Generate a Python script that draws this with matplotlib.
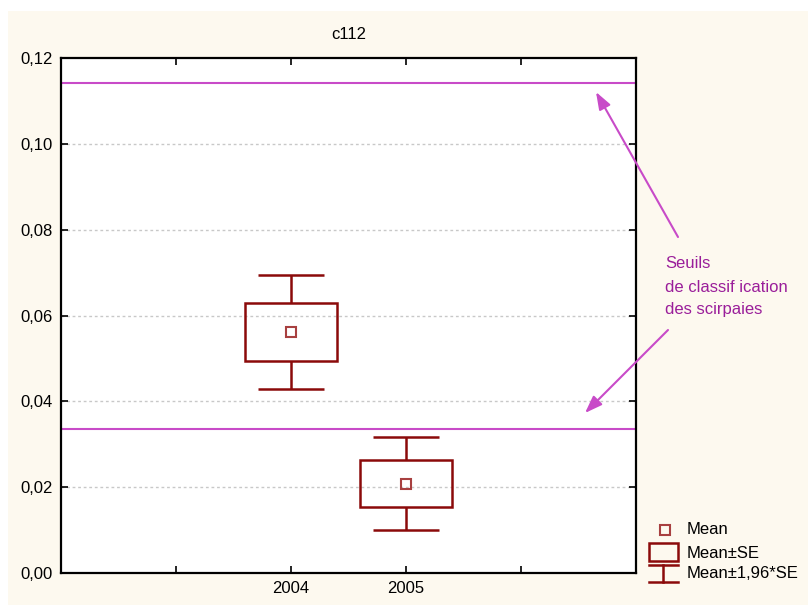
import matplotlib
matplotlib.use("Agg")
import matplotlib.pyplot as plt
from matplotlib.patches import Rectangle
from matplotlib.lines import Line2D

plt.rcParams['font.family'] = ['Liberation Sans', 'DejaVu Sans']

# Data
years = ["2004", "2005"]
means = [0.0562, 0.0208]
se = [0.0068, 0.0055]
thresholds = [0.1142, 0.0336]
yticks = [0.00, 0.02, 0.04, 0.06, 0.08, 0.10, 0.12]
ytick_labels = ["0,00", "0,02", "0,04", "0,06", "0,08", "0,10", "0,12"]
x_positions = [2, 3]
xtick_positions = [1, 2, 3, 4]
xtick_labels = ["", "2004", "2005", ""]

BOX = "#8B0A0A"
MAG = "#C84BC8"
TXT = "#9A1E9A"
CREAM = "#FDF9EF"
FS = 12

W, H = 808, 608
fig = plt.figure(figsize=(W / 100, H / 100), dpi=100, facecolor="white")

# cream panel behind the plot
fig.patches.append(Rectangle((8 / W, 3 / H), 1 - 8 / W, (605 - 11) / H,
                             transform=fig.transFigure, facecolor=CREAM,
                             edgecolor="none", zorder=-10))

ax = fig.add_axes([61 / W, (H - 573) / H, 575 / W, 515 / H])
ax.set_zorder(1)
ax.set_facecolor("white")
ax.set_xlim(0, 5)
ax.set_ylim(0, 0.12)

for g in yticks[1:-1]:
    ax.axhline(g, color="#C8C8C8", lw=1, ls=(0, (2, 2)), zorder=1)

# threshold lines
for t in thresholds:
    ax.axhline(t, color=MAG, lw=1.5, zorder=2)

# mean, ±SE box and ±1.96*SE whiskers
box_hw = 0.4
cap_hw = 0.29
for x, m, s in zip(x_positions, means, se):
    lo, hi = m - s, m + s
    wlo, whi = m - 1.96 * s, m + 1.96 * s
    ax.add_patch(Rectangle((x - box_hw, lo), 2 * box_hw, hi - lo,
                           facecolor="none", edgecolor=BOX, lw=1.8, zorder=3))
    ax.vlines(x, hi, whi, color=BOX, lw=1.8, zorder=3)
    ax.vlines(x, wlo, lo, color=BOX, lw=1.8, zorder=3)
    ax.hlines([wlo, whi], x - cap_hw, x + cap_hw, color=BOX, lw=1.8, zorder=3)
    ax.plot(x, m, marker="s", ms=7, mfc="none", mec="#A84040", mew=1.5,
            zorder=4)

ax.set_yticks(yticks)
ax.set_yticklabels(ytick_labels)
ax.set_xticks(xtick_positions)
ax.set_xticklabels(xtick_labels)
ax.tick_params(direction="in", length=5, width=1.2, top=True, right=True,
               labelsize=FS, colors="black", pad=6)
for sp in ax.spines.values():
    sp.set_linewidth(1.6)
    sp.set_color("black")

ax.set_title("c112", fontsize=FS, pad=14)

# annotation with arrows to both thresholds
fig.text(665 / W, 1 - 263 / H, "Seuils", color=TXT, fontsize=FS, va="center")
fig.text(665 / W, 1 - 287 / H, "de classif ication", color=TXT, fontsize=FS, va="center")
fig.text(665 / W, 1 - 310 / H, "des scirpaies", color=TXT, fontsize=FS, va="center")
arrow = dict(arrowstyle="-|>,head_length=1.05,head_width=0.38", color=MAG, lw=1.5,
             shrinkA=0, shrinkB=0)
fig.add_artist(matplotlib.text.Annotation(
    "", xy=(596 / W, 1 - 92 / H), xycoords="figure fraction",
    xytext=(678 / W, 1 - 237 / H), textcoords="figure fraction",
    arrowprops=arrow, annotation_clip=False, zorder=5))
fig.add_artist(matplotlib.text.Annotation(
    "", xy=(585 / W, 1 - 413 / H), xycoords="figure fraction",
    xytext=(668 / W, 1 - 330 / H), textcoords="figure fraction",
    arrowprops=arrow, annotation_clip=False, zorder=5))

# legend
def fx(px):
    return px / W

def fy(py):
    return 1 - py / H

fig.add_artist(Line2D([fx(665)], [fy(530)], marker="s", ms=7, mfc="none",
                      mec="#A84040", mew=1.5, ls="none"))
fig.add_artist(Rectangle((fx(649), fy(561)), fx(678) - fx(649), fy(543) - fy(561),
                         transform=fig.transFigure, facecolor="none",
                         edgecolor=BOX, lw=1.8))
fig.add_artist(Line2D([fx(649), fx(678)], [fy(565), fy(565)], color=BOX, lw=1.8))
fig.add_artist(Line2D([fx(649), fx(678)], [fy(582), fy(582)], color=BOX, lw=1.8))
fig.add_artist(Line2D([fx(663), fx(663)], [fy(565), fy(582)], color=BOX, lw=1.8))
for py, s in [(530, "Mean"), (553, "Mean±SE"), (574, "Mean±1,96*SE")]:
    fig.text(fx(687), fy(py), s, fontsize=FS, va="center", color="black")

fig.savefig("out.png", dpi=100, facecolor="white")
